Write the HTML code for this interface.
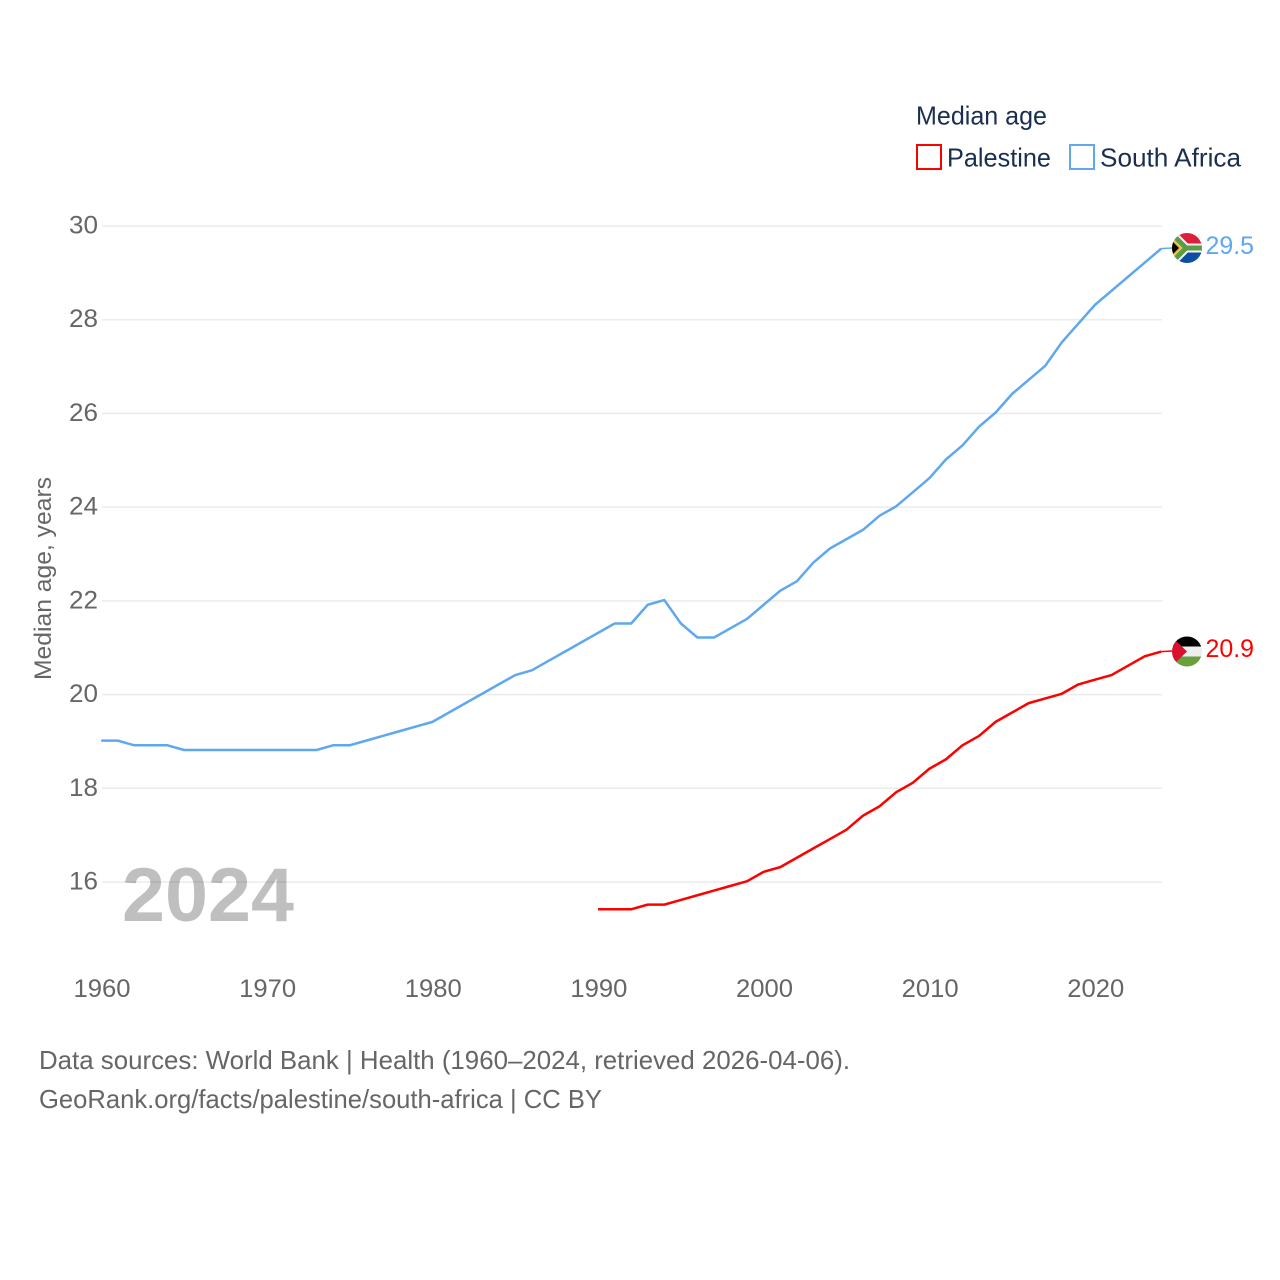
<!DOCTYPE html>
<html lang="en">
<head>
<meta charset="utf-8">
<title>Median age: Palestine and South Africa</title>
<style>
html,body{margin:0;padding:0;background:#fff;}
svg{display:block;font-family:"Liberation Sans",sans-serif;}
</style>
</head>
<body>
<svg id="chart" xmlns="http://www.w3.org/2000/svg" width="1280" height="1280" viewBox="0 0 1280 1280">
  <defs>
    <clipPath id="clip-sa"><circle cx="1187" cy="248" r="15"/></clipPath>
    <clipPath id="clip-ps"><circle cx="1187" cy="651.5" r="15"/></clipPath>
  </defs>
  <rect x="0" y="0" width="1280" height="1280" fill="#fff"/>
  <g id="grid"></g>
  <g id="yticks"></g>
  <g id="xticks"></g>
  <text transform="translate(51,680) rotate(-90)" font-size="24" fill="#666" textLength="203" lengthAdjust="spacingAndGlyphs">Median age, years</text>
  <text x="122" y="921" font-size="76" font-weight="700" fill="#000" fill-opacity="0.25" textLength="172" lengthAdjust="spacingAndGlyphs">2024</text>
  <g id="series"></g>

  <g clip-path="url(#clip-sa)">
    <rect x="1171" y="232" width="32" height="16" fill="#de1f3b"/>
    <rect x="1171" y="248" width="32" height="16" fill="#0b4ea2"/>
    <path d="M1203 248H1186L1171 233M1186 248L1171 263" fill="none" stroke="#f4f4f4" stroke-width="9"/>
    <path d="M1203 248H1186L1171 233M1186 248L1171 263" fill="none" stroke="#5f9a45" stroke-width="5"/>
    <polygon points="1171,237 1182,248 1171,259" fill="#e8bd3a"/>
    <polygon points="1171,240 1179,248 1171,256" fill="#000"/>
  </g>
  <g clip-path="url(#clip-ps)">
    <rect x="1171" y="636" width="32" height="10.5" fill="#000"/>
    <rect x="1171" y="646.5" width="32" height="10" fill="#eee"/>
    <rect x="1171" y="656.5" width="32" height="11" fill="#6a9f3e"/>
    <polygon points="1171,636 1187,651.5 1171,667" fill="#d9102e"/>
  </g>
  <text x="1205.5" y="254" font-size="25" fill="#5fa8ef" textLength="48.5" lengthAdjust="spacingAndGlyphs">29.5</text>
  <text x="1205.5" y="657" font-size="25" fill="#ff0000" textLength="48.5" lengthAdjust="spacingAndGlyphs">20.9</text>

  <g>
    <text x="916" y="124.5" font-size="26" fill="#1a2e4f" textLength="131" lengthAdjust="spacingAndGlyphs">Median age</text>
    <rect x="917" y="145" width="24" height="24" fill="none" stroke="#ff0000" stroke-width="2"/>
    <text x="947" y="166.5" font-size="26" fill="#1a2e4f" textLength="104" lengthAdjust="spacingAndGlyphs">Palestine</text>
    <rect x="1070" y="145" width="24" height="24" fill="none" stroke="#5fa8ef" stroke-width="2"/>
    <text x="1100" y="166.5" font-size="26" fill="#1a2e4f" textLength="141" lengthAdjust="spacingAndGlyphs">South Africa</text>
  </g>

  <text x="39" y="1069" font-size="26" fill="#666" textLength="811" lengthAdjust="spacingAndGlyphs">Data sources: World Bank | Health (1960–2024, retrieved 2026-04-06).</text>
  <text x="39" y="1108" font-size="26" fill="#666" textLength="563" lengthAdjust="spacingAndGlyphs">GeoRank.org/facts/palestine/south-africa | CC BY</text>
</svg>
<script>
const yTickValues = [16, 18, 20, 22, 24, 26, 28, 30];
const xTickValues = [1960, 1970, 1980, 1990, 2000, 2010, 2020];
const southAfricaStartYear = 1960;
const southAfricaValues = [19.0,19.0,18.9,18.9,18.9,18.8,18.8,18.8,18.8,18.8,18.8,18.8,18.8,18.8,18.9,18.9,19.0,19.1,19.2,19.3,19.4,19.6,19.8,20.0,20.2,20.4,20.5,20.7,20.9,21.1,21.3,21.5,21.5,21.9,22.0,21.5,21.2,21.2,21.4,21.6,21.9,22.2,22.4,22.8,23.1,23.3,23.5,23.8,24.0,24.3,24.6,25.0,25.3,25.7,26.0,26.4,26.7,27.0,27.5,27.9,28.3,28.6,28.9,29.2,29.5];
const palestineStartYear = 1990;
const palestineValues = [15.4,15.4,15.4,15.5,15.5,15.6,15.7,15.8,15.9,16.0,16.2,16.3,16.5,16.7,16.9,17.1,17.4,17.6,17.9,18.1,18.4,18.6,18.9,19.1,19.4,19.6,19.8,19.9,20.0,20.2,20.3,20.4,20.6,20.8,20.9];

const SVG_NS = 'http://www.w3.org/2000/svg';
function xScale(year) { return 102 + (year - 1960) * (1162 - 102) / 64; }
function yScale(value) { return 882 + (value - 16) * (226 - 882) / 14; }
const seriesOffsetX = -0.8;
const seriesOffsetY = -0.8;
function make(tag, attrs, parent) {
  const el = document.createElementNS(SVG_NS, tag);
  for (const k in attrs) el.setAttribute(k, attrs[k]);
  parent.appendChild(el);
  return el;
}
const gridGroup = document.getElementById('grid');
const yGroup = document.getElementById('yticks');
const xGroup = document.getElementById('xticks');
const seriesGroup = document.getElementById('series');

yTickValues.forEach(function (v) {
  const line = make('line', {x1: 102, x2: 1162, y1: yScale(v), y2: yScale(v), stroke: '#000', 'stroke-opacity': 0.08, 'stroke-width': 1.5}, gridGroup);
  
  
  const label = make('text', {x: 98, y: yScale(v) + 7.5, 'text-anchor': 'end', 'font-size': 25, fill: '#666', textLength: 29, lengthAdjust: 'spacingAndGlyphs'}, yGroup);
  
  
  label.textContent = v;
});
xTickValues.forEach(function (year) {
  const label = make('text', {x: xScale(year) - 28.5, y: 997, 'font-size': 25, fill: '#666', textLength: 57, lengthAdjust: 'spacingAndGlyphs'}, xGroup);
  
  
  label.textContent = year;
});
function drawSeries(values, startYear, color, name, flagY) {
  const pts = values.map(function (v, i) {
    return (xScale(startYear + i) + seriesOffsetX).toFixed(2) + ',' + (yScale(v) + seriesOffsetY).toFixed(2);
  });
  const line = make('polyline', {points: pts.join(' '), fill: 'none', stroke: color, 'stroke-width': 2.5, 'stroke-linejoin': 'round'}, seriesGroup);
  
  
  const lastY = yScale(values[values.length - 1]) + seriesOffsetY;
  const connector = make('line', {x1: xScale(startYear + values.length - 1) + seriesOffsetX, y1: lastY, x2: 1172, y2: flagY, stroke: color, 'stroke-width': 1.5}, seriesGroup);
  
  
}
drawSeries(southAfricaValues, southAfricaStartYear, '#5fa8ef', 'line-south-africa', 248);
drawSeries(palestineValues, palestineStartYear, '#ff0000', 'line-palestine', 651);
</script>
</body>
</html>
